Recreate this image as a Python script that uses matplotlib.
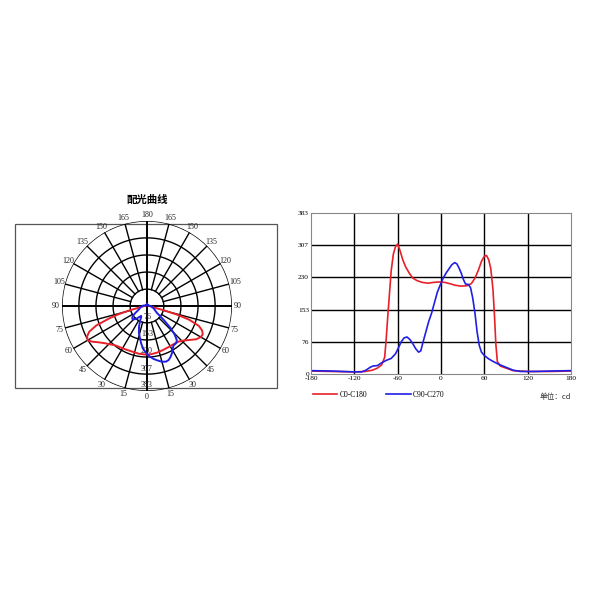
import numpy as np
import matplotlib.pyplot as plt
from matplotlib.patches import Rectangle

plt.rcParams['axes.unicode_minus'] = False

# Values
RINGS = [76, 153, 230, 307, 383]
X_TICKS = [-180, -120, -60, 0, 60, 120, 180]

red_deg = [-180, -150, -120, -105, -95, -88, -82, -78, -76, -74, -72, -69, -66, -63,
           -60, -57, -53, -49, -44, -39, -33, -26, -18, -10, -2, 5, 12, 20, 28, 36,
           42, 47, 52, 56, 60, 63, 66, 69, 72, 74, 76, 78, 82, 90, 100, 120, 150, 180]
red_val = [7, 6, 5, 6, 9, 14, 22, 40, 80, 130, 176, 245, 285, 303,
           309, 295, 272, 255, 240, 228, 222, 218, 216, 218, 219, 218, 215, 211, 209, 210,
           215, 228, 248, 268, 280, 282, 272, 250, 200, 140, 70, 30, 19, 14, 8, 6, 6, 7]

blue_deg = [-180, -150, -120, -110, -104, -98, -94, -88, -82, -75, -69, -63, -59, -55,
            -51, -47, -43, -39, -35, -31, -28, -25, -21, -17, -13, -9, -5, -1, 3, 7,
            11, 15, 19, 22, 25, 28, 31, 34, 38, 41, 44, 47, 50, 53, 56, 60, 66, 72,
            80, 90, 100, 110, 130, 150, 180]
blue_val = [8, 7, 5, 5, 9, 16, 19, 20, 27, 33, 37, 48, 62, 77,
            86, 88, 82, 72, 60, 52, 55, 75, 100, 125, 145, 170, 195, 212, 228, 240,
            250, 260, 265, 262, 252, 240, 225, 214, 213, 205, 180, 145, 100, 68, 52, 44, 36, 30,
            23, 16, 9, 6, 6, 7, 8]

RED = '#e8202a'
BLUE = '#1f1fe6'
SERIF = 'Liberation Serif'
CJK = ['Noto Sans CJK SC', 'DejaVu Sans']

fig = plt.figure(figsize=(6, 6), dpi=100)

# frame around the polar plot
fig.add_artist(Rectangle((15 / 600, 1 - 388 / 600), 262 / 600, 164 / 600,
                         transform=fig.transFigure, fill=False,
                         edgecolor='#555555', linewidth=0.9, zorder=0))
fig.text(147 / 600, 1 - 200 / 600, '配光曲线', family=CJK, fontweight='bold',
         fontsize=7.5, ha='center', va='center')

# ---- polar plot ----
rmax = RINGS[-1]
pax = fig.add_axes([62 / 600, 1 - 391 / 600, 170 / 600, 170 / 600], projection='polar')
pax.set_theta_zero_location('S')
pax.set_theta_direction(1)
pax.set_ylim(0, rmax)
pax.grid(False)
pax.set_xticks([])
pax.set_yticks([])
pax.spines['polar'].set_visible(False)
pax.patch.set_alpha(0)

full = np.linspace(0, 2 * np.pi, 361)
for r in RINGS:
    pax.plot(full, np.full_like(full, r), color='black', lw=1.0)
for a in range(0, 360, 15):
    t = np.deg2rad(a)
    r0 = 0 if a % 90 == 0 else RINGS[0]
    lw = 1.4 if a % 90 == 0 else 1.0
    pax.plot([t, t], [r0, rmax], color='black', lw=lw)

pax.plot(np.deg2rad(red_deg), red_val, color=RED, lw=1.4)
pax.plot(np.deg2rad(blue_deg), blue_val, color=BLUE, lw=1.4)

for a in range(-165, 181, 15):
    lab = str(abs(a))
    pax.text(np.deg2rad(a), rmax * 1.07, lab, fontsize=5.8, family=SERIF,
             ha='center', va='center', clip_on=False, color='#222222')
for r in RINGS:
    pax.text(0, r - 25, str(r), fontsize=5.8, family=SERIF,
             ha='center', va='center', color='#222222')

# ---- cartesian plot ----
ax = fig.add_axes([311 / 600, 1 - 374 / 600, 260 / 600, 161 / 600])
ax.plot(red_deg, red_val, color=RED, lw=1.2, label='C0-C180')
ax.plot(blue_deg, blue_val, color=BLUE, lw=1.2, label='C90-C270')
ax.set_xlim(-180, 180)
ax.set_ylim(0, rmax)
ax.set_xticks(X_TICKS)
ax.set_yticks([0] + RINGS)
ax.tick_params(length=0, labelsize=5.3, pad=1.5)
for lab in ax.get_xticklabels() + ax.get_yticklabels():
    lab.set_family(SERIF)
for x in X_TICKS[1:-1]:
    ax.axvline(x, color='black', lw=1.0, zorder=0)
for y in RINGS[:-1]:
    ax.axhline(y, color='black', lw=1.0, zorder=0)
for s in ax.spines.values():
    s.set_color('#888888')
    s.set_linewidth(0.8)

leg = ax.legend(loc='upper left', bbox_to_anchor=(-0.02, -0.06), ncol=2, frameon=False,
                prop={'family': SERIF, 'size': 5.5}, handlelength=3.2,
                columnspacing=2.5, handletextpad=0.3)
fig.text(555 / 600, 1 - 397 / 600, '单位：cd', family=CJK, fontsize=5.5,
         ha='center', va='center', color='#333333')

fig.savefig('out.png', dpi=100)
